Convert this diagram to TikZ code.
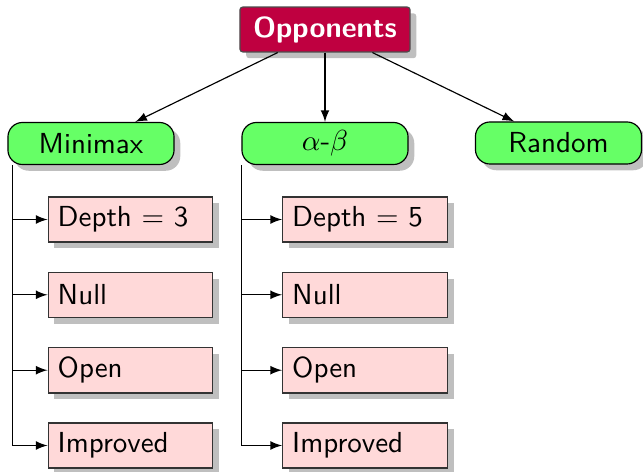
\documentclass[tikz,border=0pt]{standalone}
\usetikzlibrary{shadows,calc}
\begin{document}
\begin{tikzpicture}[x=0.345pt,y=-0.345pt,
  font=\sffamily,
  rootbox/.style={draw=black!70, fill=purple, text=white, font=\sffamily\bfseries,
    rounded corners=1pt, minimum width=58.7pt, minimum height=15.5pt,
    inner sep=0pt, drop shadow},
  algobox/.style={draw=black, fill=green!60, rounded corners=5pt,
    minimum width=57.3pt, minimum height=14.5pt, inner sep=0pt, drop shadow},
  optbox/.style={draw=black!80, fill=red!15, text width=50.2pt, align=left,
    inner sep=3.33pt, minimum height=15.5pt, drop shadow},
  link/.style={-latex, black}]
  \useasboundingbox (0,0) rectangle (643,472);

  % top level and the three opponent kinds
  \node[rootbox] (opp) at (325,29.5) {Opponents};
  \node[algobox] (mm)  at (91,143.5)  {Minimax};
  \node[algobox] (ab)  at (325,143.5) {$\alpha$-$\beta$};
  \node[algobox] (rnd) at (558.5,143) {Random};

  \draw[link] (opp) -- (mm);
  \draw[link] (opp) -- (ab);
  \draw[link] (opp) -- (rnd);

  % options under Minimax
  \node[optbox] (mmd) at (130.5,219.5) {Depth $=$ 3};
  \node[optbox] (mmn) at (130.5,294.8) {Null};
  \node[optbox] (mmo) at (130.5,370.2) {Open};
  \node[optbox] (mmi) at (130.5,445.5) {Improved};

  % options under alpha-beta
  \node[optbox] (abd) at (365,219.5) {Depth $=$ 5};
  \node[optbox] (abn) at (365,294.8) {Null};
  \node[optbox] (abo) at (365,370.2) {Open};
  \node[optbox] (abi) at (365,445.5) {Improved};

  % trunk lines hanging from the parent boxes
  \coordinate (mmroot) at ($(mm.south west)+(5.5,0)$);
  \coordinate (abroot) at (ab.south west);

  \foreach \c in {mmd,mmn,mmo,mmi}
    \draw[link] (mmroot) |- (\c.west);
  \foreach \c in {abd,abn,abo,abi}
    \draw[link] (abroot) |- (\c.west);
\end{tikzpicture}
\end{document}
